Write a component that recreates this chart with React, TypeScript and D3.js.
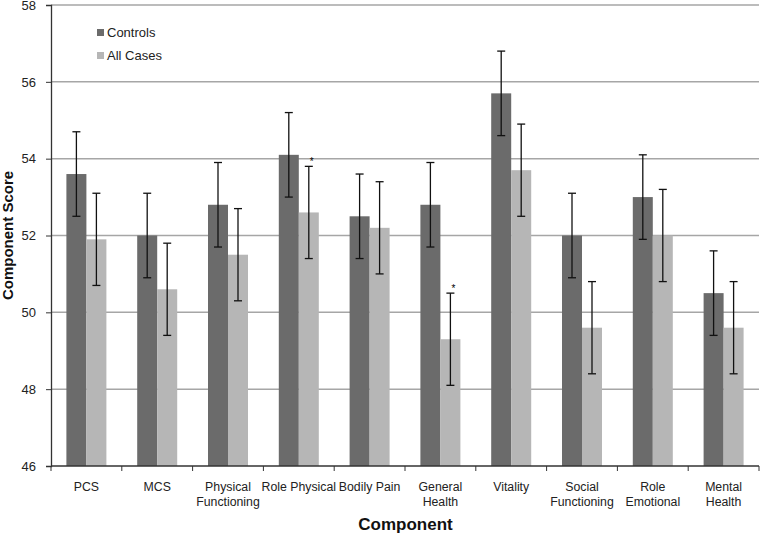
import * as d3 from "d3";
import { useEffect, useRef } from "react";

const categories = [
  ["PCS"],
  ["MCS"],
  ["Physical", "Functioning"],
  ["Role Physical"],
  ["Bodily Pain"],
  ["General", "Health"],
  ["Vitality"],
  ["Social", "Functioning"],
  ["Role", "Emotional"],
  ["Mental", "Health"],
];
const controls = [53.6, 52.0, 52.8, 54.1, 52.5, 52.8, 55.7, 52.0, 53.0, 50.5];
const controlsErr = [1.1, 1.1, 1.1, 1.1, 1.1, 1.1, 1.1, 1.1, 1.1, 1.1];
const cases = [51.9, 50.6, 51.5, 52.6, 52.2, 49.3, 53.7, 49.6, 52.0, 49.6];
const casesErr = [1.2, 1.2, 1.2, 1.2, 1.2, 1.2, 1.2, 1.2, 1.2, 1.2];
const significant = [false, false, false, true, false, true, false, false, false, false];
const yTicks = [46, 48, 50, 52, 54, 56, 58];

const W = 760;
const H = 537;
const margin = { top: 5, right: 1, bottom: 71, left: 51 };
const font = "'Liberation Sans', Arial, sans-serif";

export default function App() {
  const svgRef = useRef<SVGSVGElement>(null);

  useEffect(() => {
    const svg = d3.select(svgRef.current);
    svg.selectAll("*").remove();

    const x = d3
      .scaleBand()
      .domain(categories.map((d, i) => String(i)))
      .range([margin.left, W - margin.right]);
    const y = d3.scaleLinear().domain([46, 58]).range([H - margin.bottom, margin.top]);
    const bw = 20;

    // gridlines
    svg
      .append("g")
      .selectAll("line")
      .data(yTicks.filter((t) => t > 46))
      .join("line")
      .attr("x1", margin.left)
      .attr("x2", W - margin.right)
      .attr("y1", (d) => y(d))
      .attr("y2", (d) => y(d))
      .attr("stroke", "#a6a6a6")
      .attr("stroke-width", 1.5);

    // bars
    const series = [
      { vals: controls, err: controlsErr, color: "#6b6b6b", off: -bw },
      { vals: cases, err: casesErr, color: "#b6b6b6", off: 0 },
    ];
    series.forEach((s, si) => {
      const g = svg.append("g");
      const cx = (i: number) => x(String(i))! + x.bandwidth() / 2 + s.off;
      g.selectAll("rect")
        .data(s.vals)
        .join("rect")
        .attr("x", (d, i) => cx(i))
        .attr("y", (d) => y(d))
        .attr("width", bw)
        .attr("height", (d) => y(46) - y(d))
        .attr("fill", s.color);
      const eb = g
        .selectAll("g.err")
        .data(s.vals)
        .join("g")
        .attr("class", "err")
        .attr("stroke", "#111")
        .attr("stroke-width", 1.3);
      eb.append("line")
        .attr("x1", (d, i) => cx(i) + bw / 2)
        .attr("x2", (d, i) => cx(i) + bw / 2)
        .attr("y1", (d, i) => y(d - s.err[i]))
        .attr("y2", (d, i) => y(d + s.err[i]));
      [-1, 1].forEach((sign) => {
        eb.append("line")
          .attr("x1", (d, i) => cx(i) + bw / 2 - 4)
          .attr("x2", (d, i) => cx(i) + bw / 2 + 4)
          .attr("y1", (d, i) => y(d + sign * s.err[i]))
          .attr("y2", (d, i) => y(d + sign * s.err[i]));
      });
      if (si === 1) {
        g.selectAll("text.star")
          .data(s.vals.map((d, i) => ({ d, i })).filter((o) => significant[o.i]))
          .join("text")
          .attr("class", "star")
          .attr("x", (o) => cx(o.i) + bw / 2 + 1)
          .attr("y", (o) => y(o.d + s.err[o.i]) - 1)
          .attr("font-size", 10)
          .attr("font-family", font)
          .attr("fill", "#000")
          .text("*");
      }
    });

    // y axis
    const yAxis = svg
      .append("g")
      .attr("transform", `translate(${margin.left},0)`)
      .call(d3.axisLeft(y).tickValues(yTicks).tickSize(5).tickPadding(10).tickFormat(d3.format("d")));
    yAxis.select(".domain").attr("stroke", "#333").attr("stroke-width", 1.3);
    yAxis.selectAll("line").attr("stroke", "#333");
    yAxis.selectAll("text").attr("font-size", 13).attr("font-family", font).attr("fill", "#222");

    // x axis
    const xAxis = svg
      .append("g")
      .attr("transform", `translate(0,${y(46)})`);
    xAxis
      .append("line")
      .attr("x1", margin.left)
      .attr("x2", W - margin.right)
      .attr("stroke", "#333")
      .attr("stroke-width", 1.3);
    xAxis
      .selectAll("line.tick")
      .data(d3.range(categories.length + 1))
      .join("line")
      .attr("class", "tick")
      .attr("x1", (i) => margin.left + i * x.step())
      .attr("x2", (i) => margin.left + i * x.step())
      .attr("y1", 0)
      .attr("y2", 5)
      .attr("stroke", "#333");
    const labels = xAxis
      .selectAll("text")
      .data(categories)
      .join("text")
      .attr("x", (d, i) => x(String(i))! + x.bandwidth() / 2)
      .attr("y", 25)
      .attr("text-anchor", "middle")
      .attr("font-size", 12.3)
      .attr("font-family", font)
      .attr("fill", "#222");
    labels
      .selectAll("tspan")
      .data((d) => d)
      .join("tspan")
      .attr("x", function () {
        return (this.parentNode as SVGTextElement).getAttribute("x");
      })
      .attr("dy", (d, i) => (i === 0 ? 0 : 14.5))
      .text((d) => d);

    // titles
    svg
      .append("text")
      .attr("x", (margin.left + W) / 2)
      .attr("y", 530)
      .attr("text-anchor", "middle")
      .attr("font-size", 17)
      .attr("font-weight", "bold")
      .attr("font-family", font)
      .attr("fill", "#111")
      .text("Component");
    svg
      .append("text")
      .attr("transform", `translate(13,${(margin.top + y(46)) / 2}) rotate(-90)`)
      .attr("text-anchor", "middle")
      .attr("font-size", 15)
      .attr("font-weight", "bold")
      .attr("font-family", font)
      .attr("fill", "#111")
      .text("Component Score");

    // legend
    const legend = svg.append("g").attr("transform", "translate(97,27)");
    [
      { label: "Controls", color: "#6b6b6b" },
      { label: "All Cases", color: "#b6b6b6" },
    ].forEach((l, i) => {
      legend
        .append("rect")
        .attr("x", 0)
        .attr("y", i * 23 + 2)
        .attr("width", 7)
        .attr("height", 7)
        .attr("fill", l.color);
      legend
        .append("text")
        .attr("x", 10)
        .attr("y", i * 23 + 10)
        .attr("font-size", 13)
        .attr("font-family", font)
        .attr("fill", "#222")
        .text(l.label);
    });
  }, []);

  return (
    <svg
      ref={svgRef}
      width={W}
      height={H}
      style={{ position: "absolute", left: 0, top: 0, background: "#fff" }}
    />
  );
}
